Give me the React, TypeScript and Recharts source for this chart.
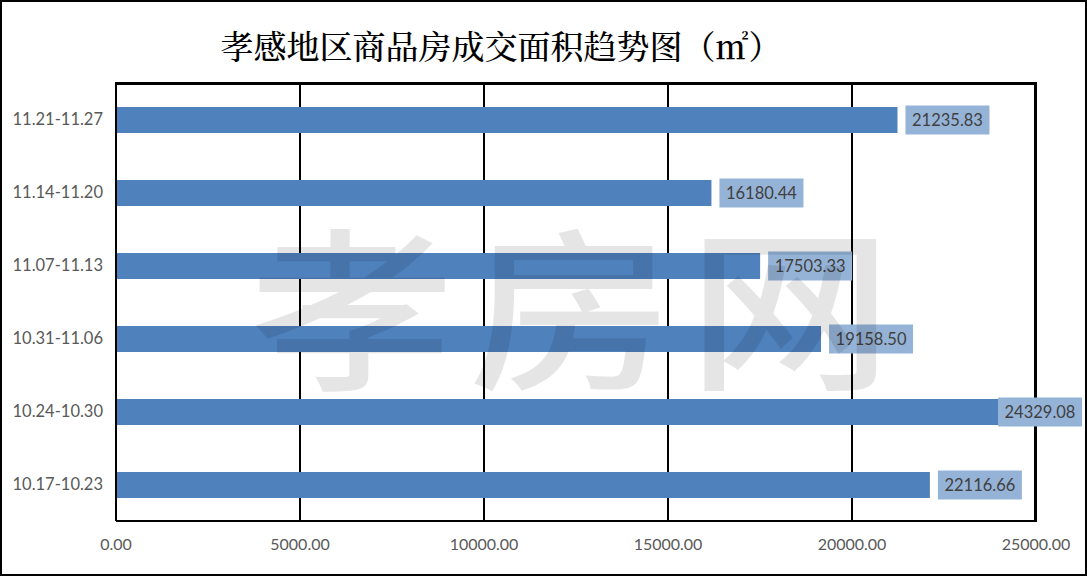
import React from 'react';
import { BarChart, Bar, XAxis, YAxis, CartesianGrid, LabelList } from 'recharts';

const weeks = ['11.21-11.27', '11.14-11.20', '11.07-11.13', '10.31-11.06', '10.24-10.30', '10.17-10.23'];
const areas = [21235.83, 16180.44, 17503.33, 19158.5, 24329.08, 22116.66];
const xTicks = [0, 5000, 10000, 15000, 20000, 25000];

const data = weeks.map((week, i) => ({ week, area: areas[i] }));

const W = 1087;
const H = 576;
const FONT = "Lato, 'Open Sans', sans-serif";

// plot frame, shared by the chart margins and the border overlay
const PLOT_LEFT = 116;
const PLOT_TOP = 83;
const PLOT_RIGHT = 51;
const PLOT_BOTTOM = 55;
const XAXIS_H = 30;

const ValueLabel = (props: any) => {
  const { x, y, width, height, value } = props;
  const text = Number(value).toFixed(2);
  const boxW = 84;
  const boxH = 29;
  let bx = x + width + 8;
  if (bx + boxW > W - 5) bx = W - 5 - boxW;
  const cy = y + height / 2;
  return (
    <g>
      <rect x={bx} y={cy - boxH / 2} width={boxW} height={boxH} fill="#95B3D7" />
      <text
        x={bx + boxW / 2}
        y={cy}
        textAnchor="middle"
        dominantBaseline="central"
        fontSize={16.5}
        fontFamily={FONT}
        fill="#404040"
      >
        {text}
      </text>
    </g>
  );
};

export default function App() {
  return (
    <div style={{ position: 'absolute', left: 0, top: 0, width: W, height: H, background: '#fff' }}>
      {/* top and right edges of the plot frame */}
      <div
        style={{
          position: 'absolute',
          left: PLOT_LEFT - 1,
          top: PLOT_TOP - 1,
          width: W - PLOT_LEFT - PLOT_RIGHT + 2,
          height: H - PLOT_TOP - PLOT_BOTTOM + 2,
          boxSizing: 'border-box',
          borderTop: '3px solid #000',
          borderRight: '3px solid #000',
        }}
      />
      <div style={{ position: 'absolute', left: 0, top: 0 }}>
        <BarChart
          width={W}
          height={H}
          data={data}
          layout="vertical"
          margin={{ top: PLOT_TOP, right: PLOT_RIGHT, bottom: PLOT_BOTTOM - XAXIS_H, left: 0 }}
          barSize={26}
        >
          <CartesianGrid horizontal={false} stroke="#000" strokeWidth={2} />
          <XAxis
            type="number"
            domain={[0, 25000]}
            ticks={xTicks}
            tickFormatter={(v: number) => v.toFixed(2)}
            axisLine={{ stroke: '#000', strokeWidth: 2 }}
            tickLine={false}
            tickMargin={12}
            height={XAXIS_H}
            tick={{ fontSize: 16, fill: '#595959', fontFamily: FONT }}
          />
          <YAxis
            type="category"
            dataKey="week"
            width={PLOT_LEFT}
            axisLine={{ stroke: '#000', strokeWidth: 2 }}
            tickLine={false}
            tickMargin={7}
            tick={{ fontSize: 16.5, fill: '#595959', fontFamily: FONT }}
          />
          <Bar dataKey="area" fill="#4F81BD" isAnimationActive={false}>
            <LabelList dataKey="area" content={ValueLabel} />
          </Bar>
        </BarChart>
      </div>
      <div
        style={{
          position: 'absolute',
          left: 0,
          top: 25,
          width: 1002,
          textAlign: 'center',
          fontSize: 33,
          lineHeight: '40px',
          fontWeight: 500,
          fontFamily: "'Noto Serif CJK SC', 'Noto Sans CJK SC', serif",
          color: '#000',
        }}
      >
        孝感地区商品房成交面积趋势图（㎡）
      </div>
      <div
        style={{
          position: 'absolute',
          left: 238,
          top: 185,
          width: 680,
          textAlign: 'center',
          fontSize: 205,
          lineHeight: '230px',
          letterSpacing: 14,
          fontWeight: 500,
          fontFamily: "'Noto Sans CJK SC', sans-serif",
          color: 'rgba(0,0,0,0.1)',
          pointerEvents: 'none',
          whiteSpace: 'nowrap',
          transform: 'scaleY(0.85)',
        }}
      >
        孝房网
      </div>
      <div
        style={{
          position: 'absolute',
          left: 0,
          top: 0,
          width: W,
          height: H,
          boxSizing: 'border-box',
          border: '2px solid #000',
          pointerEvents: 'none',
        }}
      />
    </div>
  );
}
